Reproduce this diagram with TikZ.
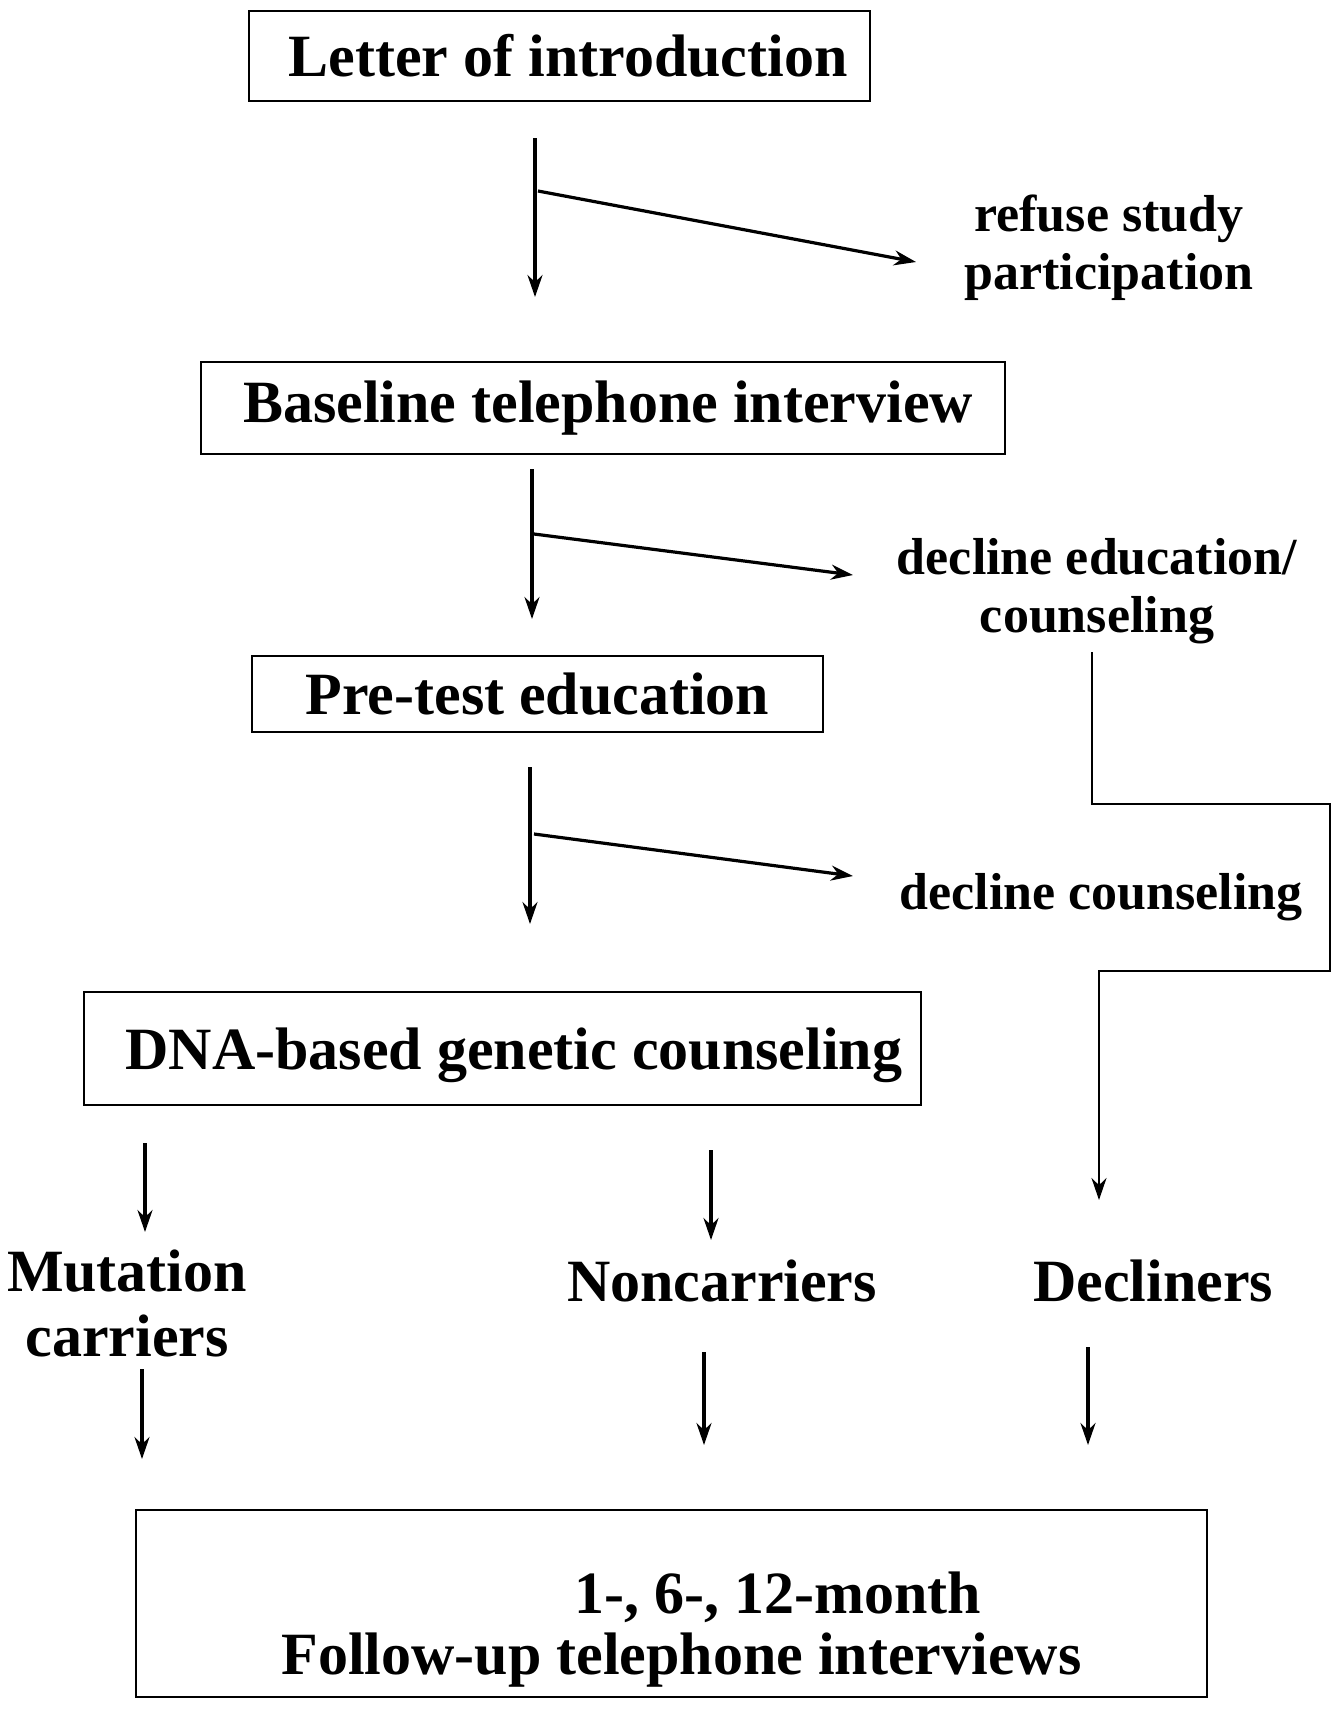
\documentclass[tikz,border=0pt]{standalone}
\usepackage{fontspec}
\setmainfont{Liberation Serif}
\usetikzlibrary{arrows.meta}
\begin{document}
\begin{tikzpicture}[x=0.5pt,y=-0.5pt,
  box/.style={draw,line width=1.25pt,inner sep=0pt,align=center,font=\bfseries\fontsize{30}{30.5}\selectfont},
  btext/.style={inner sep=0pt,align=center,font=\bfseries\fontsize{30}{30.5}\selectfont},
  lbl/.style={inner sep=0pt,align=center,font=\bfseries\fontsize{30}{32.5}\selectfont},
  side/.style={inner sep=0pt,align=center,font=\bfseries\fontsize{26}{29}\selectfont},
  arr/.style={line width=1.6pt,-{Stealth[length=11pt,width=7.5pt]}},
  route/.style={line width=1.1pt,-{Stealth[length=11pt,width=7.5pt]}}]
\useasboundingbox (0,0) rectangle (1338,1710);
% boxes
\node[box,minimum width=310.5pt,minimum height=45pt] (b1) at (559.5,56) {\hspace*{8.5pt}Letter of introduction};
\node[box,minimum width=402pt,minimum height=46pt] (b2) at (603,408) {\hspace*{5pt}Baseline telephone interview};
\node[box,minimum width=285.5pt,minimum height=38pt] (b3) at (537.5,694) {Pre-test education};
\node[box,minimum width=418.5pt,minimum height=56.5pt] (b4) at (502.5,1048.5) {};
\node[btext] (b4t) at (514,1055) {DNA-based genetic counseling};
\node[box,minimum width=535.5pt,minimum height=93.5pt] (b5) at (671.5,1603.5) {};
\node[btext] (b5t) at (b5.center) [yshift=-13pt] {\hspace*{106pt}1-, 6-, 12-month\\\hspace*{10pt}Follow-up telephone interviews};
% side labels
\node[side] (refuse) at (1109,248) {refuse study\\participation};
\node[side] (decedu) at (1097,591) {decline education/\\counseling};
\node[side] (deccou) at (1101,897) {decline counseling};
% outcome labels
\node[lbl] (mut) at (127,1303) {Mutation\\carriers};
\node[lbl] (non) at (722,1281) {Noncarriers};
\node[lbl] (dec) at (1153,1281) {Decliners};
% coordinates
\coordinate (a1s) at (535,138); \coordinate (a1e) at (535,297);
\coordinate (r1s) at (538,191); \coordinate (r1e) at (916,262);
\coordinate (a2s) at (532,469); \coordinate (a2e) at (532,619);
\coordinate (r2s) at (534,534); \coordinate (r2e) at (853,575);
\coordinate (a3s) at (530,767); \coordinate (a3e) at (530,924);
\coordinate (r3s) at (534,834); \coordinate (r3e) at (853,876);
\coordinate (p0) at (1092,652); \coordinate (p1) at (1092,804);
\coordinate (p2) at (1330,804); \coordinate (p3) at (1330,971);
\coordinate (p4) at (1099,971); \coordinate (p5) at (1099,1200);
\coordinate (d1s) at (145,1143); \coordinate (d1e) at (145,1232);
\coordinate (d2s) at (711,1150); \coordinate (d2e) at (711,1240);
\coordinate (e1s) at (142,1369); \coordinate (e1e) at (142,1459);
\coordinate (e2s) at (704,1352); \coordinate (e2e) at (704,1445);
\coordinate (e3s) at (1088,1347); \coordinate (e3e) at (1088,1445);
% connectors
\draw[arr] (a1s) -- (a1e);
\draw[arr] (r1s) -- (r1e);
\draw[arr] (a2s) -- (a2e);
\draw[arr] (r2s) -- (r2e);
\draw[arr] (a3s) -- (a3e);
\draw[arr] (r3s) -- (r3e);
\draw[route,line join=miter] (p0) -- (p1) -- (p2) -- (p3) -- (p4) -- (p5);
\draw[arr] (d1s) -- (d1e);
\draw[arr] (d2s) -- (d2e);
\draw[arr] (e1s) -- (e1e);
\draw[arr] (e2s) -- (e2e);
\draw[arr] (e3s) -- (e3e);
\end{tikzpicture}
\end{document}
